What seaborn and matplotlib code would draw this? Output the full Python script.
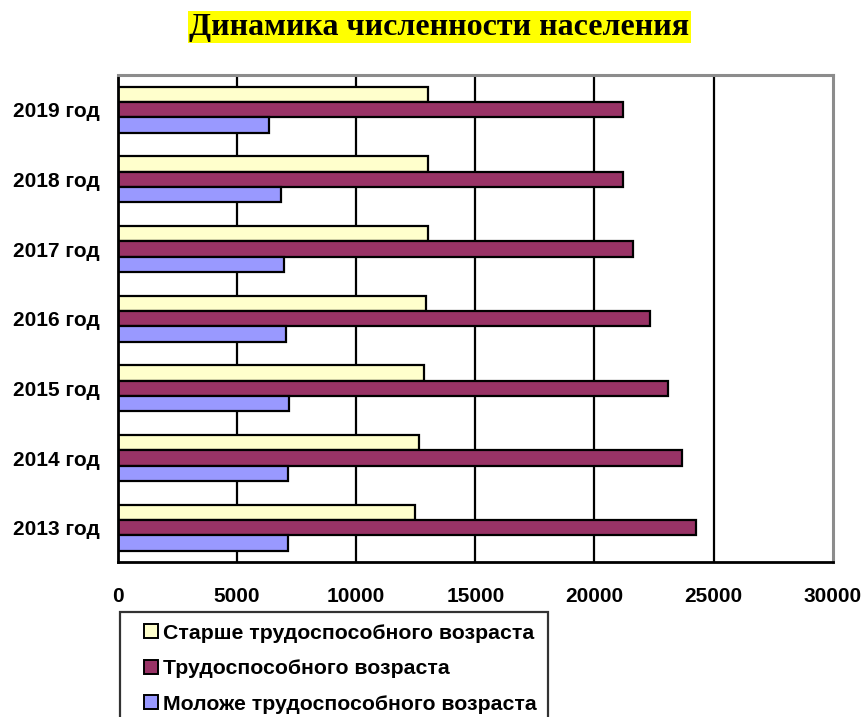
import numpy as np
import pandas as pd
import matplotlib.pyplot as plt
import seaborn as sns
from matplotlib.lines import Line2D

YEARS = ["2019 год", "2018 год", "2017 год", "2016 год", "2015 год", "2014 год", "2013 год"]
SERIES = ["Старше трудоспособного возраста", "Трудоспособного возраста", "Моложе трудоспособного возраста"]
older = [13000, 13000, 13000, 12950, 12860, 12640, 12460]
working = [21190, 21190, 21630, 22340, 23080, 23690, 24270]
younger = [6350, 6830, 6960, 7040, 7160, 7120, 7140]
COLORS = ["#FFFFCC", "#993366", "#9999FF"]
XTICKS = [0, 5000, 10000, 15000, 20000, 25000, 30000]

df = pd.DataFrame({
    "year": YEARS * 3,
    "group": [SERIES[0]] * 7 + [SERIES[1]] * 7 + [SERIES[2]] * 7,
    "value": older + working + younger,
})

sns.set_style("white")
plt.rcParams["font.family"] = ["Liberation Sans", "DejaVu Sans"]
plt.rcParams["text.color"] = "black"
plt.rcParams["xtick.color"] = "black"
plt.rcParams["ytick.color"] = "black"

fig = plt.figure(figsize=(8.65, 7.17), dpi=100)
ax = fig.add_axes([0.1364, 0.2155, 0.8262, 0.6799])

sns.barplot(data=df, y="year", x="value", hue="group", order=YEARS, hue_order=SERIES,
            palette=COLORS, orient="h", width=0.66, edgecolor="black", linewidth=1.6,
            saturation=1, legend=False, ax=ax, errorbar=None)

ax.set_xlim(0, 30000)
ax.set_ylim(len(YEARS) - 0.5, -0.5)
ax.set_xticks(XTICKS)
ax.set_xticklabels([str(t) for t in XTICKS], fontsize=15, fontweight="bold")
ax.set_yticklabels(YEARS, fontsize=15, fontweight="bold")
ax.set_yticks(np.arange(-0.5, len(YEARS), 1.0), minor=True)
ax.tick_params(axis="y", which="major", length=0, pad=13)
ax.tick_params(axis="y", which="minor", length=6, width=1.8, direction="out")
ax.tick_params(axis="x", which="major", length=6, width=1.6, direction="out", pad=12)
ax.set_xlabel("")
ax.set_ylabel("")

ax.grid(False)
for t in XTICKS[1:-1]:
    ax.axvline(t, color="black", lw=1.6, zorder=0)
ax.set_axisbelow(True)

for side in ["left", "bottom"]:
    ax.spines[side].set_color("black")
    ax.spines[side].set_linewidth(2)
for side in ["top", "right"]:
    ax.spines[side].set_color("#8c8c8c")
    ax.spines[side].set_linewidth(2.2)

fig.text(0.508, 0.962, "Динамика численности населения", ha="center", va="center",
         fontsize=23, fontweight="bold", family=["Liberation Serif", "DejaVu Serif"],
         bbox=dict(facecolor="#FFFF00", edgecolor="none", pad=1))

# square markers in the legend, like the spreadsheet original
handles = [Line2D([], [], marker="s", markersize=10.5, linestyle="none",
                  markerfacecolor=c, markeredgecolor="black", markeredgewidth=1.4)
           for c in COLORS]
leg = fig.legend(handles, SERIES, loc="upper left", bbox_to_anchor=(0.1387, 0.1467),
                 prop={"weight": "bold", "size": 15.3}, frameon=True, fancybox=False,
                 edgecolor="black", handlelength=1.84, handleheight=0.7, handletextpad=-0.37,
                 labelspacing=0.78, borderpad=0.55, borderaxespad=0)
leg.get_frame().set_linewidth(1.6)

fig.savefig("out.png", dpi=100)
